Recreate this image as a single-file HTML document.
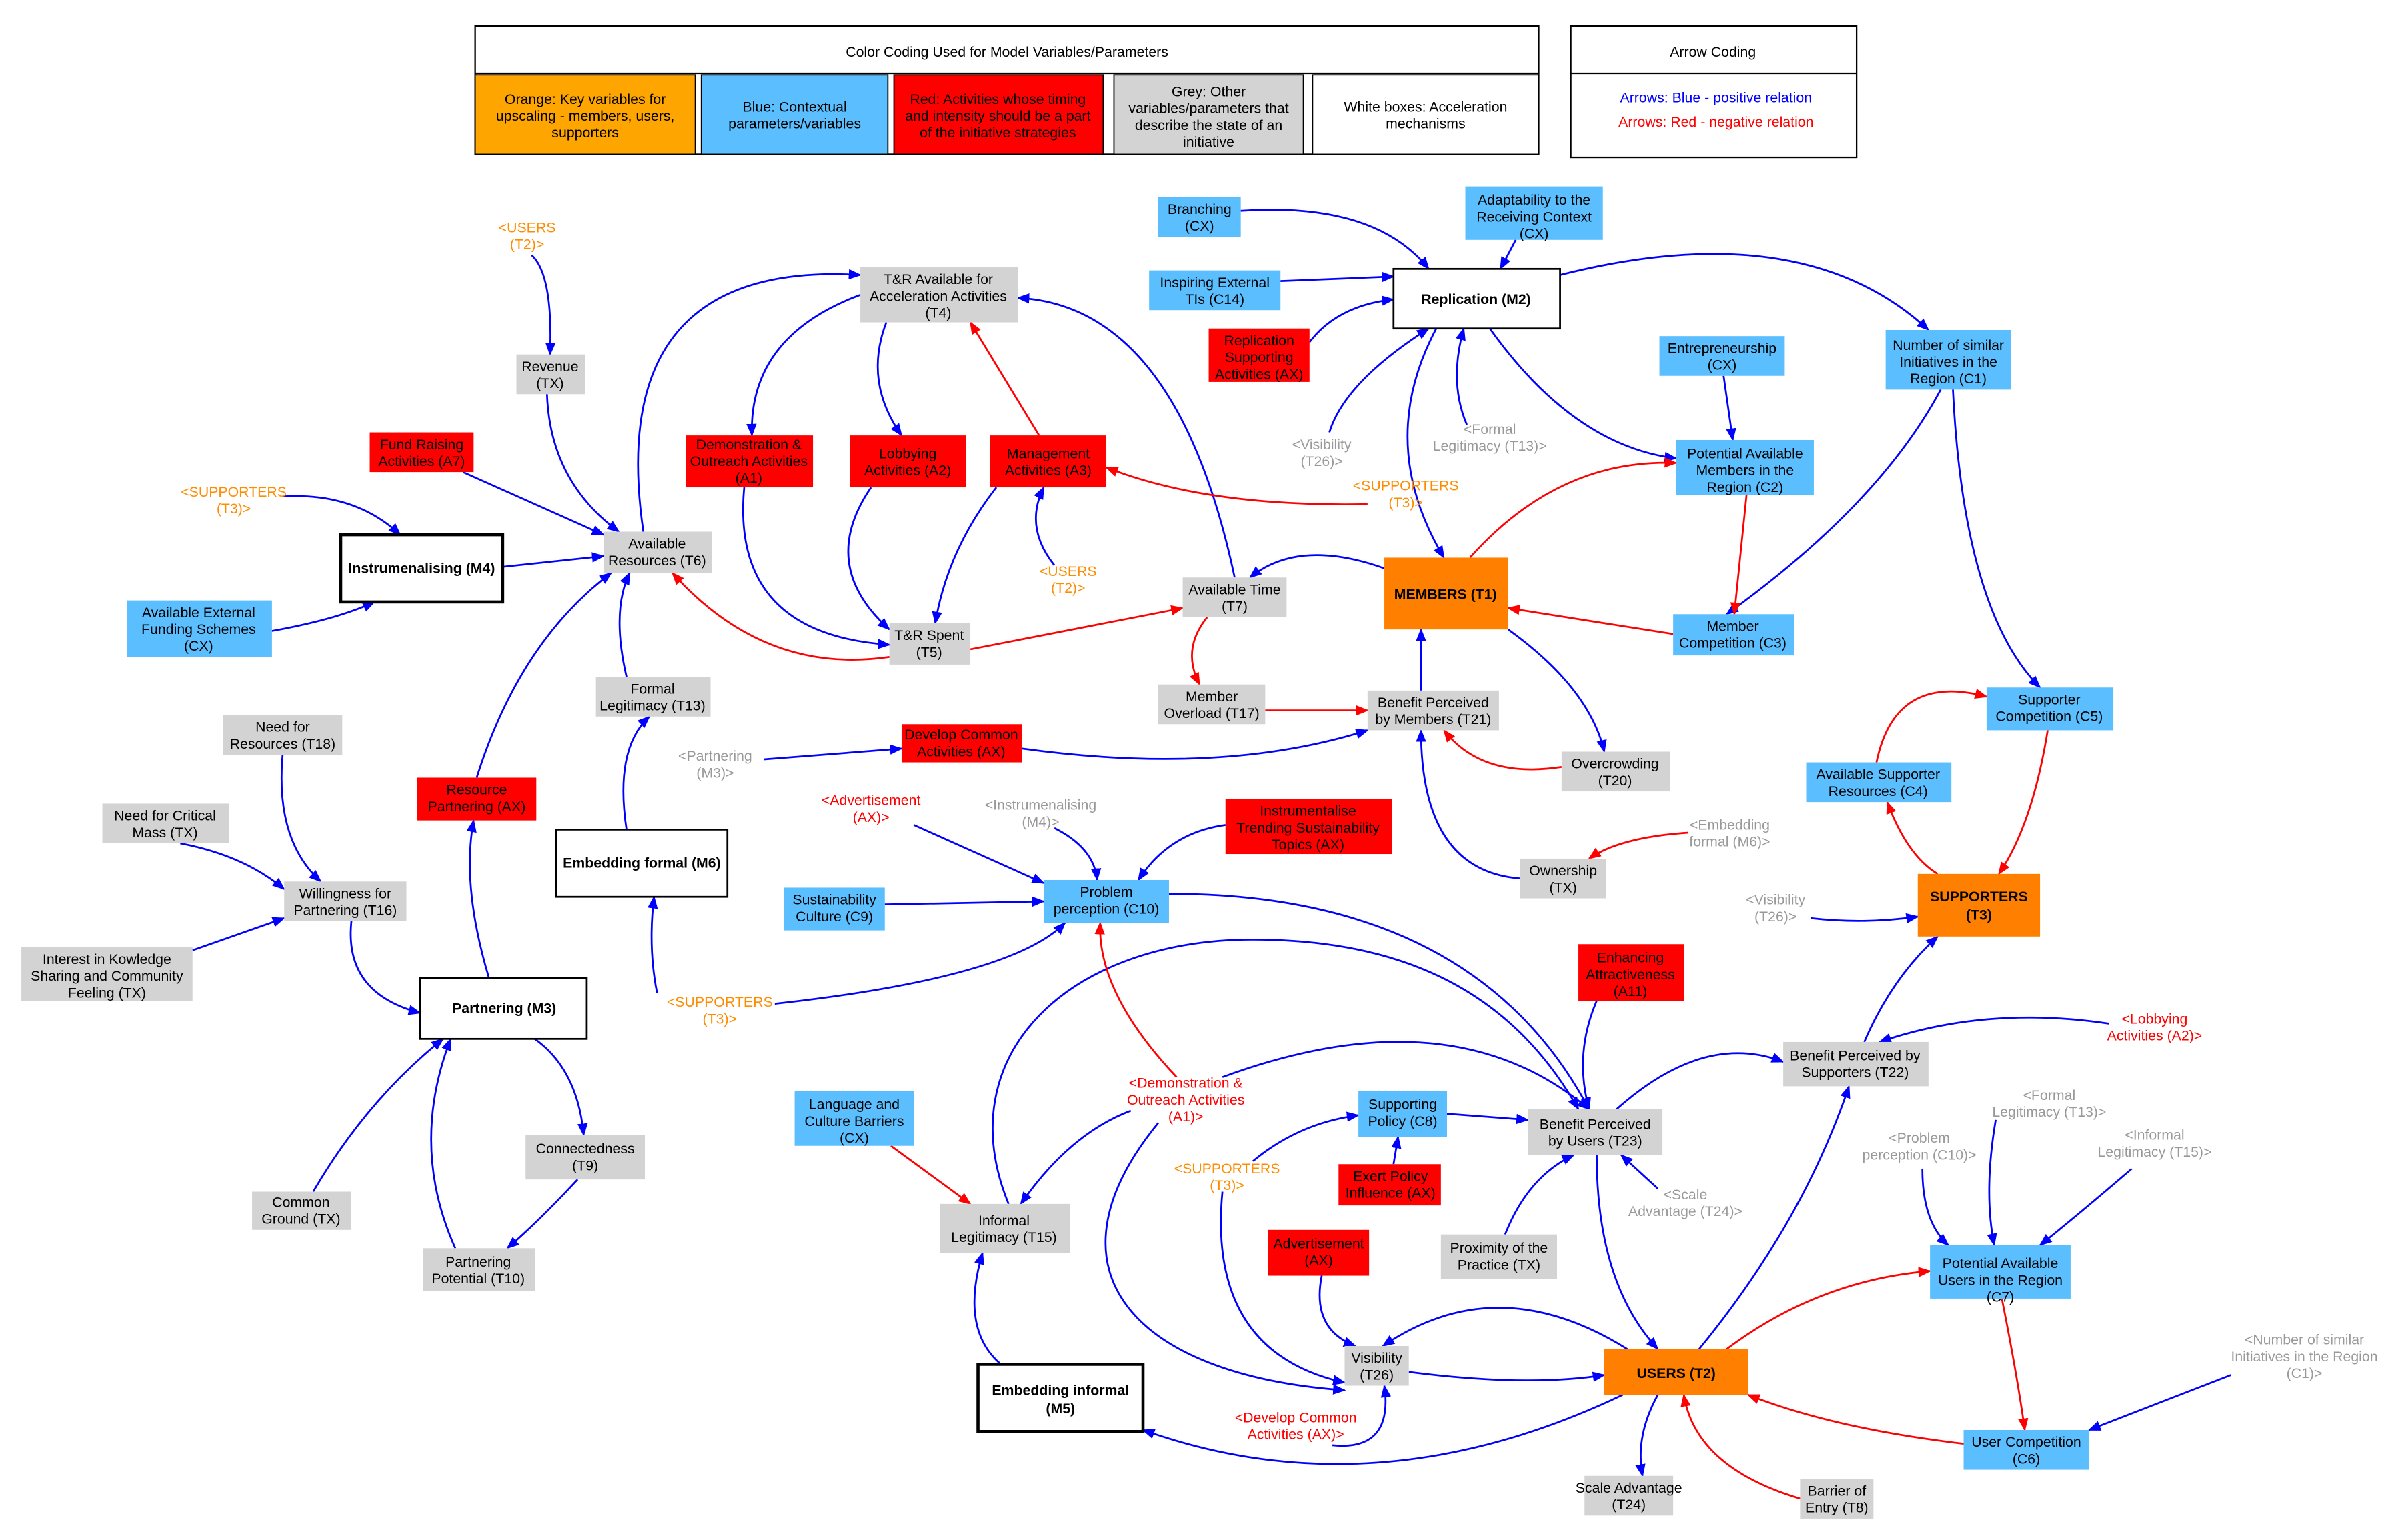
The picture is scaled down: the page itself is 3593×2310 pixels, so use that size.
<!DOCTYPE html>
<html><head><meta charset="utf-8"><style>
html,body{margin:0;padding:0;background:#fff}
svg{display:block}
text{font-family:"Liberation Sans",Arial,sans-serif;font-size:9.3px;text-anchor:middle}
.b{font-weight:bold}
</style></head><body>
<svg xmlns="http://www.w3.org/2000/svg" width="3593" height="2310" viewBox="0 0 1568 1008" preserveAspectRatio="none">
<defs>
<marker id="ab" viewBox="0 0 10 10" refX="9" refY="5" markerWidth="7" markerHeight="7" orient="auto"><path d="M0,1 L10,5 L0,9 z" fill="#00f"/></marker>
<marker id="ar" viewBox="0 0 10 10" refX="9" refY="5" markerWidth="7" markerHeight="7" orient="auto"><path d="M0,1 L10,5 L0,9 z" fill="#f00"/></marker>
</defs>
<rect width="1568" height="1008" fill="#fff"/>
<!-- legend -->
<rect x="311" y="17" width="696" height="84" fill="#fff" stroke="#000" stroke-width="1"/>
<line x1="311" y1="48" x2="1007" y2="48" stroke="#000"/>
<text x="659" y="37">Color Coding Used for Model Variables/Parameters</text>
<rect x="311" y="49" width="144" height="52" fill="#ffa500" stroke="#000" stroke-width="0.8"/>
<text x="383" y="68">Orange: Key variables for</text><text x="383" y="79">upscaling - members, users,</text><text x="383" y="90">supporters</text>
<rect x="459" y="49" width="122" height="52" fill="#5bbfff" stroke="#000" stroke-width="0.8"/>
<text x="520" y="73">Blue: Contextual</text><text x="520" y="84">parameters/variables</text>
<rect x="585" y="49" width="137" height="52" fill="#f00" stroke="#000" stroke-width="0.8"/>
<text x="653" y="68">Red: Activities whose timing</text><text x="653" y="79">and intensity should be a part</text><text x="653" y="90">of the initiative strategies</text>
<rect x="729" y="49" width="124" height="52" fill="#d3d3d3" stroke="#000" stroke-width="0.8"/>
<text x="791" y="63">Grey: Other</text><text x="791" y="74">variables/parameters that</text><text x="791" y="85">describe the state of an</text><text x="791" y="96">initiative</text>
<rect x="859" y="49" width="148" height="52" fill="#fff" stroke="#000" stroke-width="0.8"/>
<text x="933" y="73">White boxes: Acceleration</text><text x="933" y="84">mechanisms</text>
<rect x="1028" y="17" width="187" height="86" fill="#fff" stroke="#000"/>
<line x1="1028" y1="48" x2="1215" y2="48" stroke="#000"/>
<text x="1121" y="37">Arrow Coding</text>
<text x="1123" y="67" fill="#00f">Arrows: Blue - positive relation</text>
<text x="1123" y="83" fill="#f00">Arrows: Red - negative relation</text>

<!-- blue edges -->
<g fill="none" stroke="#00f" stroke-width="1.2" marker-end="url(#ab)">
<path d="M812,138 Q900,132 935,176"/>
<path d="M992,157 L982,176"/>
<path d="M838,184 L912,181"/>
<path d="M857,224 Q875,200 912,196"/>
<path d="M1021,180 Q1180,140 1262,216"/>
<path d="M975,215 Q1030,292 1097,300"/>
<path d="M960,278 Q948,250 958,215"/>
<path d="M870,283 Q880,250 935,215"/>
<path d="M940,215 Q900,290 945,365"/>
<path d="M1128,246 L1134,288"/>
<path d="M1270,255 Q1230,330 1130,402"/>
<path d="M1278,255 Q1285,400 1335,450"/>
<path d="M906,372 Q850,352 818,378"/>
<path d="M987,412 Q1040,450 1050,492"/>
<path d="M930,452 L930,412"/>
<path d="M808,378 Q770,200 666,195"/>
<path d="M563,193 Q490,220 492,285"/>
<path d="M580,211 Q565,250 590,285"/>
<path d="M487,319 Q478,415 582,422"/>
<path d="M570,319 Q535,370 582,412"/>
<path d="M652,319 Q620,360 612,408"/>
<path d="M690,370 Q670,345 683,319"/>
<path d="M358,258 Q360,315 405,348"/>
<path d="M303,309 L395,350"/>
<path d="M185,325 Q232,322 262,350"/>
<path d="M348,167 Q362,180 360,232"/>
<path d="M329,371 L395,364"/>
<path d="M178,413 Q222,405 245,394"/>
<path d="M421,348 Q395,170 563,180"/>
<path d="M410,443 Q400,400 412,375"/>
<path d="M410,543 Q402,490 425,469"/>
<path d="M312,509 Q340,420 400,375"/>
<path d="M320,640 Q302,580 310,537"/>
<path d="M185,494 Q180,550 210,577"/>
<path d="M118,552 Q160,560 186,582"/>
<path d="M126,622 L186,601"/>
<path d="M230,603 Q225,650 275,663"/>
<path d="M205,780 Q240,720 290,680"/>
<path d="M298,817 Q268,750 295,680"/>
<path d="M350,680 Q378,700 382,743"/>
<path d="M378,772 Q352,800 332,817"/>
<path d="M500,497 L590,490"/>
<path d="M669,490 Q800,508 895,478"/>
<path d="M430,650 Q424,620 428,587"/>
<path d="M507,657 Q662,640 697,604"/>
<path d="M598,540 L683,578"/>
<path d="M690,542 Q716,555 718,576"/>
<path d="M802,540 Q765,545 745,576"/>
<path d="M579,592 L683,590"/>
<path d="M765,585 Q965,585 1040,726"/>
<path d="M660,788 C620,690 700,615 820,615 C920,615 990,650 1033,726"/>
<path d="M800,705 Q950,650 1040,726"/>
<path d="M740,727 Q700,742 668,788"/>
<path d="M758,735 C680,830 740,900 880,910"/>
<path d="M1045,655 Q1030,690 1040,726"/>
<path d="M947,729 L1000,733"/>
<path d="M912,762 L915,744"/>
<path d="M820,760 Q850,735 889,730"/>
<path d="M800,780 Q790,885 880,905"/>
<path d="M985,808 Q1000,770 1030,756"/>
<path d="M1085,778 L1061,756"/>
<path d="M1045,756 Q1045,840 1085,883"/>
<path d="M1058,726 Q1115,675 1167,695"/>
<path d="M1112,883 Q1180,800 1210,711"/>
<path d="M1220,682 Q1238,640 1268,613"/>
<path d="M1380,670 Q1300,658 1230,682"/>
<path d="M1185,601 Q1220,605 1255,600"/>
<path d="M1258,765 Q1258,800 1275,815"/>
<path d="M1306,733 Q1298,780 1305,815"/>
<path d="M1395,765 Q1360,795 1335,815"/>
<path d="M1460,900 L1367,936"/>
<path d="M865,835 Q858,870 887,881"/>
<path d="M1065,883 Q980,830 905,881"/>
<path d="M922,898 Q1000,908 1050,900"/>
<path d="M872,946 Q912,950 906,907"/>
<path d="M1062,913 Q900,990 748,936"/>
<path d="M655,893 Q628,870 643,820"/>
<path d="M1085,913 Q1070,940 1075,966"/>
<path d="M995,575 Q930,570 930,478"/>
</g>
<!-- red edges -->
<g fill="none" stroke="#f00" stroke-width="1.2" marker-end="url(#ar)">
<path d="M680,285 L635,211"/>
<path d="M962,365 Q1020,300 1097,303"/>
<path d="M1143,324 L1135,402"/>
<path d="M1095,415 L987,398"/>
<path d="M895,330 Q790,332 724,306"/>
<path d="M582,430 Q500,442 440,375"/>
<path d="M635,425 L774,398"/>
<path d="M790,404 Q773,425 785,448"/>
<path d="M828,465 L895,465"/>
<path d="M1022,502 Q970,510 945,478"/>
<path d="M1105,545 Q1060,548 1040,562"/>
<path d="M1340,478 Q1330,540 1308,572"/>
<path d="M1228,499 Q1240,440 1300,456"/>
<path d="M1268,572 Q1248,560 1235,525"/>
<path d="M583,750 L635,788"/>
<path d="M1130,883 Q1190,838 1263,832"/>
<path d="M1310,850 Q1320,900 1325,936"/>
<path d="M1285,945 Q1200,935 1144,913"/>
<path d="M1182,982 Q1110,962 1102,913"/>
<path d="M770,705 Q718,650 720,604"/>
</g>

<!-- nodes -->
<g stroke="none">
<!-- blue -->
<g fill="#5bbfff">
<rect x="758" y="129" width="54" height="26"/>
<rect x="959" y="122" width="90" height="35"/>
<rect x="752" y="177" width="86" height="26"/>
<rect x="1234" y="216" width="82" height="39"/>
<rect x="1086" y="220" width="82" height="26"/>
<rect x="1097" y="288" width="90" height="36"/>
<rect x="83" y="393" width="95" height="37"/>
<rect x="1095" y="402" width="79" height="27"/>
<rect x="1300" y="450" width="83" height="28"/>
<rect x="1182" y="499" width="95" height="26"/>
<rect x="513" y="581" width="66" height="28"/>
<rect x="683" y="576" width="82" height="28"/>
<rect x="520" y="714" width="78" height="36"/>
<rect x="889" y="714" width="58" height="30"/>
<rect x="1263" y="815" width="92" height="35"/>
<rect x="1285" y="936" width="82" height="26"/>
</g>
<!-- red -->
<g fill="#f00">
<rect x="791" y="215" width="66" height="35"/>
<rect x="242" y="283" width="68" height="26"/>
<rect x="449" y="285" width="83" height="34"/>
<rect x="556" y="285" width="76" height="34"/>
<rect x="648" y="285" width="76" height="34"/>
<rect x="590" y="474" width="79" height="25"/>
<rect x="273" y="509" width="78" height="28"/>
<rect x="802" y="523" width="109" height="36"/>
<rect x="1033" y="618" width="69" height="37"/>
<rect x="876" y="762" width="67" height="27"/>
<rect x="830" y="805" width="66" height="30"/>
</g>
<!-- grey -->
<g fill="#d3d3d3">
<rect x="563" y="175" width="103" height="36"/>
<rect x="338" y="232" width="45" height="26"/>
<rect x="395" y="348" width="71" height="27"/>
<rect x="774" y="378" width="68" height="26"/>
<rect x="582" y="408" width="53" height="27"/>
<rect x="390" y="443" width="75" height="26"/>
<rect x="758" y="448" width="70" height="26"/>
<rect x="895" y="452" width="86" height="26"/>
<rect x="146" y="468" width="78" height="26"/>
<rect x="1022" y="492" width="71" height="26"/>
<rect x="67" y="526" width="83" height="26"/>
<rect x="995" y="562" width="56" height="26"/>
<rect x="186" y="577" width="80" height="26"/>
<rect x="14" y="620" width="112" height="35"/>
<rect x="1167" y="682" width="95" height="29"/>
<rect x="1000" y="726" width="88" height="30"/>
<rect x="344" y="743" width="78" height="29"/>
<rect x="165" y="780" width="65" height="25"/>
<rect x="615" y="788" width="85" height="32"/>
<rect x="943" y="808" width="76" height="29"/>
<rect x="277" y="817" width="73" height="28"/>
<rect x="880" y="881" width="42" height="26"/>
<rect x="1037" y="966" width="58" height="26"/>
<rect x="1178" y="968" width="48" height="26"/>
</g>
<!-- orange -->
<g fill="#ff8000">
<rect x="906" y="365" width="81" height="47"/>
<rect x="1255" y="572" width="80" height="41"/>
<rect x="1050" y="883" width="94" height="30"/>
</g>
</g>
<!-- white mechanism boxes -->
<g fill="#fff" stroke="#000">
<rect x="912" y="176" width="109" height="39" stroke-width="1.2"/>
<rect x="223" y="350" width="106" height="44" stroke-width="2"/>
<rect x="364" y="543" width="112" height="44" stroke-width="1.2"/>
<rect x="275" y="640" width="109" height="40" stroke-width="1.2"/>
<rect x="640" y="893" width="108" height="44" stroke-width="2"/>
</g>

<!-- node labels -->
<g fill="#000">
<text x="785" y="140">Branching</text><text x="785" y="151">(CX)</text>
<text x="1004" y="134">Adaptability to the</text><text x="1004" y="145">Receiving Context</text><text x="1004" y="156">(CX)</text>
<text x="795" y="188">Inspiring External</text><text x="795" y="199">TIs (C14)</text>
<text x="966" y="199" class="b">Replication (M2)</text>
<text x="824" y="226">Replication</text><text x="824" y="237">Supporting</text><text x="824" y="248">Activities (AX)</text>
<text x="1275" y="229">Number of similar</text><text x="1275" y="240">Initiatives in the</text><text x="1275" y="251">Region (C1)</text>
<text x="1127" y="231">Entrepreneurship</text><text x="1127" y="242">(CX)</text>
<text x="1142" y="300">Potential Available</text><text x="1142" y="311">Members in the</text><text x="1142" y="322">Region (C2)</text>
<text x="614" y="186">T&amp;R Available for</text><text x="614" y="197">Acceleration Activities</text><text x="614" y="208">(T4)</text>
<text x="360" y="243">Revenue</text><text x="360" y="254">(TX)</text>
<text x="276" y="294">Fund Raising</text><text x="276" y="305">Activities (A7)</text>
<text x="490" y="294">Demonstration &amp;</text><text x="490" y="305">Outreach Activities</text><text x="490" y="316">(A1)</text>
<text x="594" y="300">Lobbying</text><text x="594" y="311">Activities (A2)</text>
<text x="686" y="300">Management</text><text x="686" y="311">Activities (A3)</text>
<text x="276" y="375" class="b">Instrumenalising (M4)</text>
<text x="430" y="359">Available</text><text x="430" y="370">Resources (T6)</text>
<text x="130" y="404">Available External</text><text x="130" y="415">Funding Schemes</text><text x="130" y="426">(CX)</text>
<text x="808" y="389">Available Time</text><text x="808" y="400">(T7)</text>
<text x="946" y="392" class="b">MEMBERS (T1)</text>
<text x="1134" y="413">Member</text><text x="1134" y="424">Competition (C3)</text>
<text x="608" y="419">T&amp;R Spent</text><text x="608" y="430">(T5)</text>
<text x="427" y="454">Formal</text><text x="427" y="465">Legitimacy (T13)</text>
<text x="793" y="459">Member</text><text x="793" y="470">Overload (T17)</text>
<text x="938" y="463">Benefit Perceived</text><text x="938" y="474">by Members (T21)</text>
<text x="1341" y="461">Supporter</text><text x="1341" y="472">Competition (C5)</text>
<text x="185" y="479">Need for</text><text x="185" y="490">Resources (T18)</text>
<text x="629" y="484">Develop Common</text><text x="629" y="495">Activities (AX)</text>
<text x="1057" y="503">Overcrowding</text><text x="1057" y="514">(T20)</text>
<text x="1229" y="510">Available Supporter</text><text x="1229" y="521">Resources (C4)</text>
<text x="312" y="520">Resource</text><text x="312" y="531">Partnering (AX)</text>
<text x="108" y="537">Need for Critical</text><text x="108" y="548">Mass (TX)</text>
<text x="420" y="568" class="b">Embedding formal (M6)</text>
<text x="856" y="534">Instrumentalise</text><text x="856" y="545">Trending Sustainability</text><text x="856" y="556">Topics (AX)</text>
<text x="1023" y="573">Ownership</text><text x="1023" y="584">(TX)</text>
<text x="226" y="588">Willingness for</text><text x="226" y="599">Partnering (T16)</text>
<text x="546" y="592">Sustainability</text><text x="546" y="603">Culture (C9)</text>
<text x="724" y="587">Problem</text><text x="724" y="598">perception (C10)</text>
<text x="1295" y="590" class="b">SUPPORTERS</text><text x="1295" y="602" class="b">(T3)</text>
<text x="70" y="631">Interest in Kowledge</text><text x="70" y="642">Sharing and Community</text><text x="70" y="653">Feeling (TX)</text>
<text x="1067" y="630">Enhancing</text><text x="1067" y="641">Attractiveness</text><text x="1067" y="652">(A11)</text>
<text x="330" y="663" class="b">Partnering (M3)</text>
<text x="1214" y="694">Benefit Perceived by</text><text x="1214" y="705">Supporters (T22)</text>
<text x="559" y="726">Language and</text><text x="559" y="737">Culture Barriers</text><text x="559" y="748">(CX)</text>
<text x="918" y="726">Supporting</text><text x="918" y="737">Policy (C8)</text>
<text x="1044" y="739">Benefit Perceived</text><text x="1044" y="750">by Users (T23)</text>
<text x="383" y="755">Connectedness</text><text x="383" y="766">(T9)</text>
<text x="910" y="773">Exert Policy</text><text x="910" y="784">Influence (AX)</text>
<text x="197" y="790">Common</text><text x="197" y="801">Ground (TX)</text>
<text x="657" y="802">Informal</text><text x="657" y="813">Legitimacy (T15)</text>
<text x="981" y="820">Proximity of the</text><text x="981" y="831">Practice (TX)</text>
<text x="863" y="817">Advertisement</text><text x="863" y="828">(AX)</text>
<text x="1309" y="830">Potential Available</text><text x="1309" y="841">Users in the Region</text><text x="1309" y="852">(C7)</text>
<text x="313" y="829">Partnering</text><text x="313" y="840">Potential (T10)</text>
<text x="901" y="892">Visibility</text><text x="901" y="903">(T26)</text>
<text x="1097" y="902" class="b">USERS (T2)</text>
<text x="694" y="913" class="b">Embedding informal</text><text x="694" y="925" class="b">(M5)</text>
<text x="1326" y="947">User Competition</text><text x="1326" y="958">(C6)</text>
<text x="1066" y="977">Scale Advantage</text><text x="1066" y="988">(T24)</text>
<text x="1202" y="979">Barrier of</text><text x="1202" y="990">Entry (T8)</text>
</g>
<!-- shadow labels -->
<g fill="#ff8c00">
<text x="345" y="152">&lt;USERS</text><text x="345" y="163">(T2)&gt;</text>
<text x="153" y="325">&lt;SUPPORTERS</text><text x="153" y="336">(T3)&gt;</text>
<text x="699" y="377">&lt;USERS</text><text x="699" y="388">(T2)&gt;</text>
<text x="920" y="321">&lt;SUPPORTERS</text><text x="920" y="332">(T3)&gt;</text>
<text x="471" y="659">&lt;SUPPORTERS</text><text x="471" y="670">(T3)&gt;</text>
<text x="803" y="768">&lt;SUPPORTERS</text><text x="803" y="779">(T3)&gt;</text>
</g>
<g fill="#999">
<text x="865" y="294">&lt;Visibility</text><text x="865" y="305">(T26)&gt;</text>
<text x="975" y="284">&lt;Formal</text><text x="975" y="295">Legitimacy (T13)&gt;</text>
<text x="468" y="498">&lt;Partnering</text><text x="468" y="509">(M3)&gt;</text>
<text x="681" y="530">&lt;Instrumenalising</text><text x="681" y="541">(M4)&gt;</text>
<text x="1132" y="543">&lt;Embedding</text><text x="1132" y="554">formal (M6)&gt;</text>
<text x="1162" y="592">&lt;Visibility</text><text x="1162" y="603">(T26)&gt;</text>
<text x="1341" y="720">&lt;Formal</text><text x="1341" y="731">Legitimacy (T13)&gt;</text>
<text x="1256" y="748">&lt;Problem</text><text x="1256" y="759">perception (C10)&gt;</text>
<text x="1410" y="746">&lt;Informal</text><text x="1410" y="757">Legitimacy (T15)&gt;</text>
<text x="1103" y="785">&lt;Scale</text><text x="1103" y="796">Advantage (T24)&gt;</text>
<text x="1508" y="880">&lt;Number of similar</text><text x="1508" y="891">Initiatives in the Region</text><text x="1508" y="902">(C1)&gt;</text>
</g>
<g fill="#f00">
<text x="570" y="527">&lt;Advertisement</text><text x="570" y="538">(AX)&gt;</text>
<text x="1410" y="670">&lt;Lobbying</text><text x="1410" y="681">Activities (A2)&gt;</text>
<text x="776" y="712">&lt;Demonstration &amp;</text><text x="776" y="723">Outreach Activities</text><text x="776" y="734">(A1)&gt;</text>
<text x="848" y="931">&lt;Develop Common</text><text x="848" y="942">Activities (AX)&gt;</text>
</g>
</svg>
</body></html>
